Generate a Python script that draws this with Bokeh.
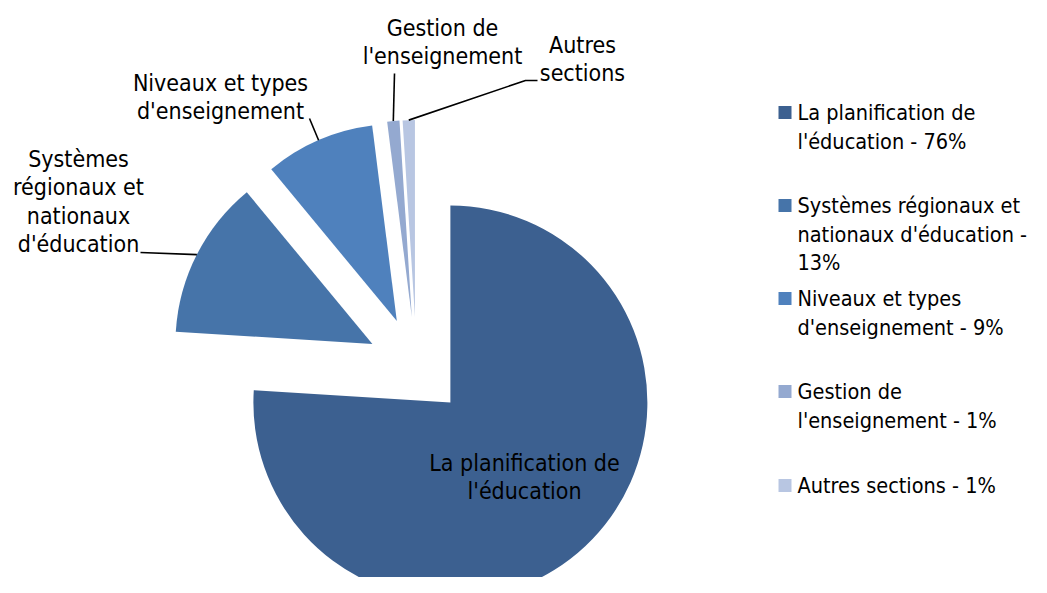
import math
from bokeh.plotting import figure
from bokeh.models import Range1d, ColumnDataSource
from bokeh.embed import file_html
from bokeh.resources import INLINE
from bokeh.core.properties import value

# ---------------- data ----------------
categories = [
    "La planification de l'éducation",
    "Systèmes régionaux et nationaux d'éducation",
    "Niveaux et types d'enseignement",
    "Gestion de l'enseignement",
    "Autres sections",
]
shares = [76, 13, 9, 1, 1]
pie_label_lines = [
    ["La planification de", "l'éducation"],
    ["Systèmes", "régionaux et", "nationaux", "d'éducation"],
    ["Niveaux et types", "d'enseignement"],
    ["Gestion de", "l'enseignement"],
    ["Autres", "sections"],
]
legend_lines = [
    ["La planification de", "l'éducation - 76%"],
    ["Systèmes régionaux et", "nationaux d'éducation -", "13%"],
    ["Niveaux et types", "d'enseignement - 9%"],
    ["Gestion de", "l'enseignement - 1%"],
    ["Autres sections - 1%"],
]
colors = ["#3C6090", "#4674A9", "#4F81BD", "#94A9D0", "#B8C6E2"]

# ---------------- layout (page pixels) ----------------
PAGE_H = 593
W, H = 1031, 577
FONT = "DejaVu Sans Condensed"
FS = "23px"
LEG_FS = "21.5px"
LH = 28.5


def Y(y):
    return PAGE_H - y


CX, CY = 416, 366          # pie centre (page px)
R = 197                    # radius
EXPLODE = 49.5             # explosion distance

# label anchors: (center x, first line center y)
label_anchor = [(524, 462), (78, 158), (220, 82), (442, 27), (582, 44)]
# leader line end points near labels
leader_end = [None, [(140, 252)], [(309, 118)], [(394, 73)], [(537, 80), (525, 80)]]

p = figure(width=W, height=H, x_range=Range1d(0, W), y_range=Range1d(PAGE_H - H, PAGE_H),
           output_backend="svg", toolbar_location=None,
           x_axis_type=None, y_axis_type=None, min_border=0)
p.grid.visible = False
p.outline_line_color = None
p.background_fill_color = "white"

total = sum(shares)
cum = 0.0
wx, wy, sa, ea = [], [], [], []
leader_xs, leader_ys = [], []
for i, s in enumerate(shares):
    t1 = cum / total * 360.0
    t2 = (cum + s) / total * 360.0
    cum += s
    tm = math.radians((t1 + t2) / 2)
    ax = CX + EXPLODE * math.sin(tm)
    ay = CY - EXPLODE * math.cos(tm)
    wx.append(ax)
    wy.append(Y(ay))
    sa.append(90 - t1)
    ea.append(90 - t2)
    if leader_end[i]:
        px = ax + R * math.sin(tm)
        py = ay - R * math.cos(tm)
        pts = [(px, py)] + list(reversed(leader_end[i]))
        leader_xs.append([q[0] for q in pts])
        leader_ys.append([Y(q[1]) for q in pts])

src = ColumnDataSource(dict(x=wx, y=wy, sa=sa, ea=ea, color=colors, cat=categories))
p.wedge(x="x", y="y", radius=R, start_angle="sa", end_angle="ea",
        start_angle_units="deg", end_angle_units="deg", direction="clock",
        fill_color="color", line_color=None, source=src)

p.multi_line(xs=leader_xs, ys=leader_ys, line_color="black", line_width=1.6)

# pie labels
tx, ty, tt = [], [], []
for (ax, ay), lines in zip(label_anchor, pie_label_lines):
    for k, ln in enumerate(lines):
        tx.append(ax)
        ty.append(Y(ay + k * LH))
        tt.append(ln)
p.text(x=tx, y=ty, text=tt, text_align="center", text_baseline="middle",
       text_font=value(FONT), text_font_size=FS, text_color="black")

# legend
LEG_SQ_X = 784.5
LEG_TX = 797
leg_y = [112, 205, 298, 391, 485]
p.rect(x=[LEG_SQ_X] * len(colors), y=[Y(v) for v in leg_y], width=13, height=13,
       fill_color=colors, line_color=None)
lx, ly, lt = [], [], []
for y0, lines in zip(leg_y, legend_lines):
    for k, ln in enumerate(lines):
        lx.append(LEG_TX)
        ly.append(Y(y0 + k * LH))
        lt.append(ln)
p.text(x=lx, y=ly, text=lt, text_align="left", text_baseline="middle",
       text_font=value(FONT), text_font_size=LEG_FS, text_color="black")

open("out.html", "w").write(file_html(p, INLINE))
